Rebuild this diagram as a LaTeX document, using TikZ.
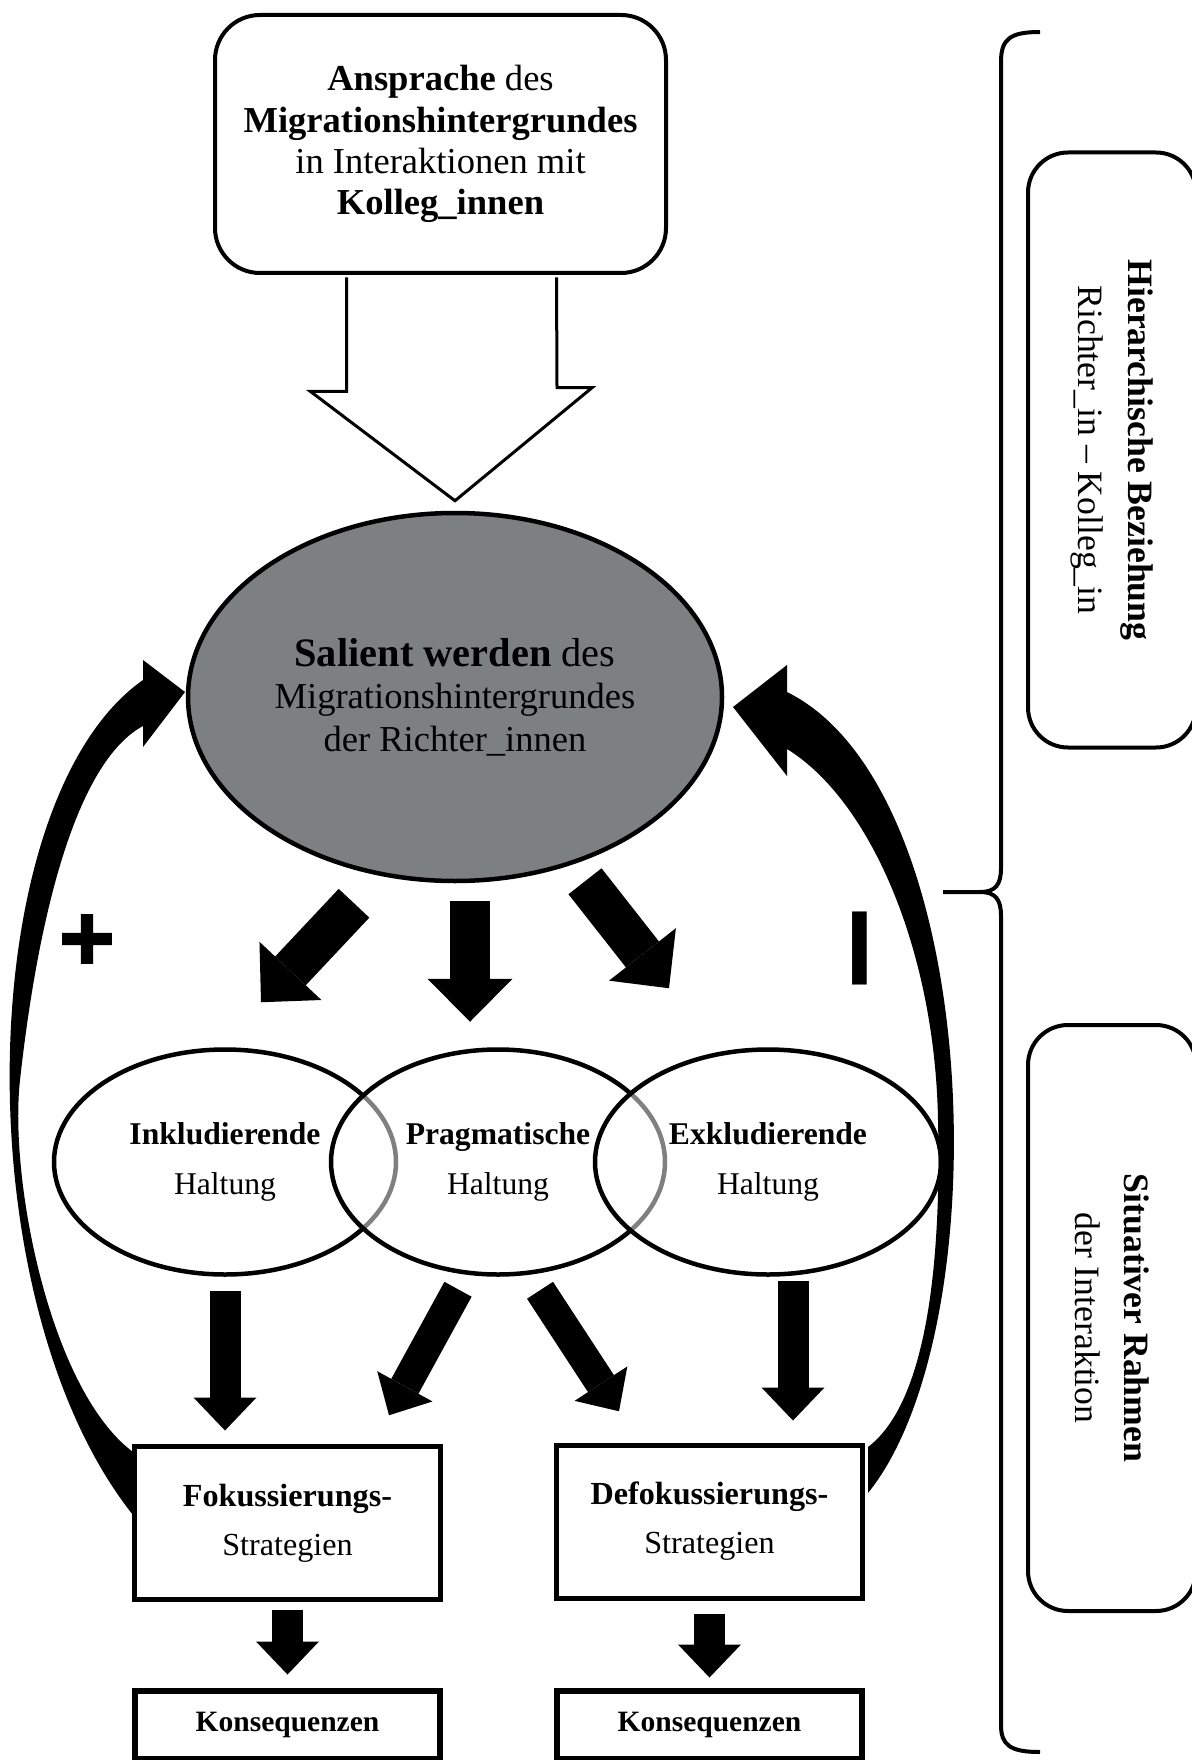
\documentclass[tikz,border=0pt]{standalone}
\usepackage{fontspec}
\setmainfont{Liberation Serif}
\newfontfamily\signfont{DejaVu Sans}[BoldFeatures={FakeBold=5}]
\newfontfamily\dashfont{Liberation Sans}
\usetikzlibrary{arrows.meta,positioning,shapes.geometric,calc}
\definecolor{salgray}{RGB}{125,128,129}

\begin{document}
\begin{tikzpicture}[x=0.1mm,y=-0.1mm,
    topbox/.style={draw,line width=0.4mm,rounded corners=4.5mm,fill=white,
                   minimum width=45.1mm,minimum height=25.8mm,align=center,
                   font=\fontsize{10.4pt}{11.7pt}\selectfont},
    salient/.style={ellipse,draw,line width=0.45mm,fill=salgray,inner sep=0pt,
                    minimum width=53.4mm,minimum height=36.8mm,align=center,
                    font=\fontsize{10.4pt}{12.1pt}\selectfont},
    haltung/.style={ellipse,draw,line width=0.45mm,fill=white,fill opacity=0.5,
                    text opacity=1,inner sep=0pt,minimum height=22.5mm,align=center,
                    font=\fontsize{9pt}{14.2pt}\selectfont},
    stratbox/.style={draw,line width=0.5mm,fill=white,minimum width=30.6mm,
                     minimum height=15.3mm,align=center,
                     font=\fontsize{9.15pt}{13.9pt}\selectfont},
    konsbox/.style={draw,line width=0.6mm,fill=white,minimum width=30.5mm,
                    minimum height=6.8mm,font=\fontsize{8.4pt}{10pt}\selectfont\bfseries},
    sidebox/.style={draw,line width=0.4mm,rounded corners=4mm,rotate=-90,
                    minimum height=16.8mm,align=center,
                    font=\fontsize{10.15pt}{14pt}\selectfont},
    hollow/.style={draw,line width=0.3mm,fill=white},
    blk/.style={line width=4.2mm,-{Triangle[length=4.3mm,width=8.5mm,line width=0pt]}},
    blks/.style={line width=3.1mm,-{Triangle[length=3.3mm,width=6.3mm,line width=0pt]}},
    feedback/.style={fill=black},
    bracel/.style={draw,line width=0.4mm}]
  \useasboundingbox (0,0) rectangle (1191,1760);

  % feedback arrows (+ left, - right)
  \fill[feedback] (133,1515) .. controls (-38,1300) and (-28,800) .. (143,680)
    -- (143,660) -- (185,692) -- (143,747) -- (143,726)
    .. controls (80,760) and (40,900) .. (20,1080)
    .. controls (9,1180) and (50,1390) .. (133,1452) -- cycle;
  \fill[feedback] (868,1493) .. controls (1000,1330) and (985,790) .. (787,692)
    -- (787,665) -- (733,707) -- (787,776) -- (787,749)
    .. controls (870,800) and (935,950) .. (938,1120)
    .. controls (941,1250) and (930,1400) .. (868,1447) -- cycle;

  \node[topbox] (ansp) at (440.5,144) {\textbf{Ansprache} des\\\textbf{Migrationshintergrundes}\\in Interaktionen mit\\\textbf{Kolleg\_innen}};
  \node[salient] (sal) at (455,697) {{\fontsize{11.5pt}{12.1pt}\selectfont\textbf{Salient werden} des}\\Migrationshintergrundes\\der Richter\_innen};
  \draw[hollow] ([xshift=-9.4mm,yshift=-0.25mm]ansp.south) -- ++(0,114) -- ++(-36,0)
    -- ([yshift=1mm]sal.north) -- ++(137,-113) -- ++(-35,0)
    -- ([xshift=11.6mm,yshift=-0.25mm]ansp.south);

  \node[haltung,minimum width=34.2mm] (ink) at (225,1162) {\textbf{Inkludierende}\\Haltung};
  \node[haltung,minimum width=33.4mm] (prag) at (498,1162) {\textbf{Pragmatische}\\Haltung};
  \node[haltung,minimum width=34.6mm] (exk) at (768,1162) {\textbf{Exkludierende}\\Haltung};

  \node[stratbox] (fok) at (287.5,1523) {\textbf{Fokussierungs-}\\Strategien};
  \node[stratbox] (defok) at (709.5,1521.5) {\textbf{Defokussierungs-}\\Strategien};
  \node[konsbox,below=8.6mm of fok] (kon1) {Konsequenzen};
  \node[konsbox,below=8.7mm of defok] (kon2) {Konsequenzen};

  \draw[blk] ([shift={(-101,20)}]sal.south) -- ++(-93,99);
  \draw[blk,line width=4mm,shorten <=1.8mm,shorten >=2.55mm]
    ([xshift=1.5mm]sal.south) -- ([xshift=1.5mm]sal.south |- prag.north);
  \draw[blk] ([shift={(130,-2)}]sal.south) -- ++(84,107);

  \draw[blks,shorten <=1.45mm,shorten >=1.35mm] (ink.south) -- (ink.south |- fok.north);
  \draw[blks] ([shift={(-40,12.5)}]prag.south) -- ++(-69,126);
  \draw[blks] ([shift={(42,13.5)}]prag.south) -- ++(79,121);
  \draw[blks,shorten <=0.45mm,shorten >=2.2mm]
    ([xshift=2.5mm]exk.south) -- ([xshift=2.5mm]exk.south |- defok.north);
  \draw[blks,shorten <=0.75mm,shorten >=1.35mm] (fok.south) -- (kon1.north);
  \draw[blks,shorten <=1.3mm,shorten >=1mm] (defok.south) -- (kon2.north);

  \node[font=\signfont\bfseries\fontsize{21pt}{21pt}\selectfont,inner sep=0pt] (plus) at (87,939) {+};
  \node[font=\dashfont\bfseries\fontsize{42pt}{42pt}\selectfont,rotate=90,inner sep=0pt] (minus) at (876,948) {–};

  % brace and frame boxes
  \draw[bracel] (1040,32) .. controls (1010,32) and (1001,39) .. (1001,62) -- (1001,868)
    .. controls (1001,884) and (996,892) .. (980,892) -- (943,892)
    (980,892) .. controls (996,892) and (1001,900) .. (1001,916) -- (1001,1725)
    .. controls (1001,1745) and (1010,1752) .. (1040,1752);
  \node[sidebox,minimum width=59.5mm] (hier) at (1112,450) {\textbf{Hierarchische Beziehung}\\Richter\_in – Kolleg\_in};
  \node[sidebox,minimum width=58.6mm] (sit) at (1112,1318) {\textbf{Situativer Rahmen}\\der Interaktion};
\end{tikzpicture}
\end{document}
